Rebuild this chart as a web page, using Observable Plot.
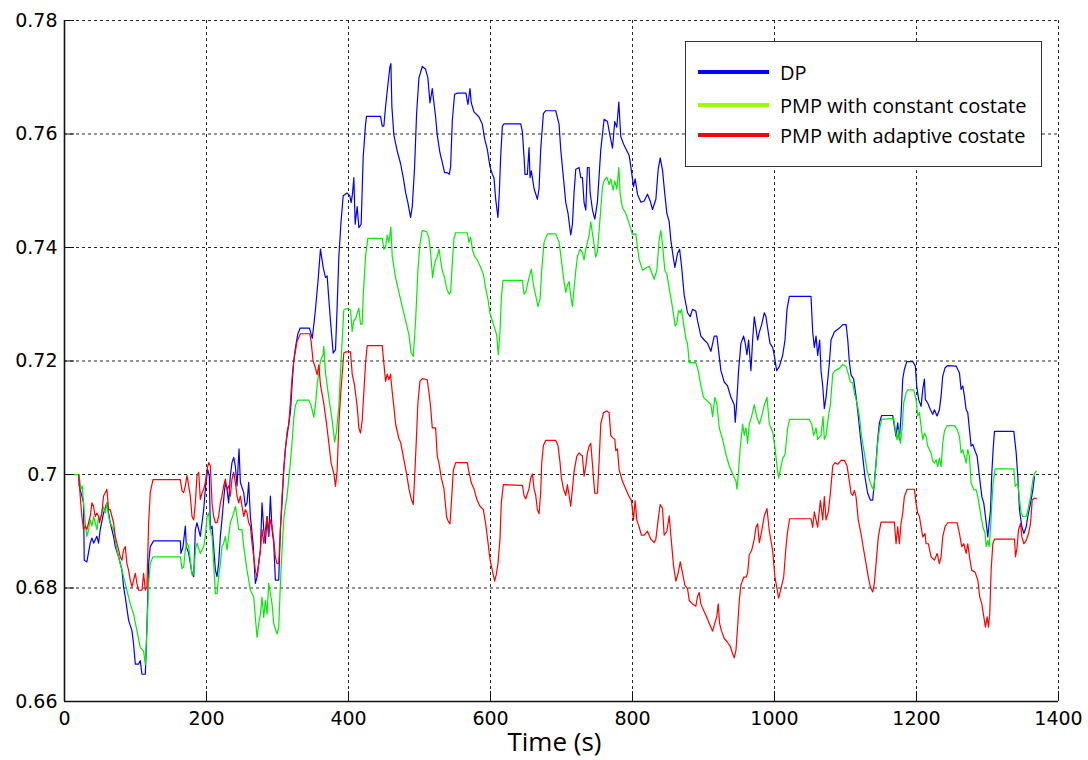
<!DOCTYPE html>
<html>
<head>
<meta charset="utf-8">
<script src="https://cdn.jsdelivr.net/npm/d3@7"></script>
<script src="https://cdn.jsdelivr.net/npm/@observablehq/plot@0.6"></script>
<style>
  html, body { margin: 0; padding: 0; background: #fff; }
  #wrap { position: relative; width: 1088px; height: 760px; }
  #legend {
    position: absolute; left: 685px; top: 41px; width: 355px; height: 124px;
    border: 1.5px solid #333; background: #fff; box-sizing: content-box;
    font-family: "Open Sans", "Noto Sans", sans-serif; font-size: 20px; color: #000;
  }
  .row { position: absolute; left: 0; height: 24px; display: flex; align-items: center; }
  .swatch { width: 71px; height: 3.5px; margin-left: 12px; margin-right: 11px; }
</style>
</head>
<body>
<div id="wrap"></div>
<script>
// ---------- data ----------
const seriesNames = ["DP", "PMP with constant costate", "PMP with adaptive costate"];
const seriesColors = ["#0000ff", "#00ee00", "#ff0000"];
const legendColors = ["#0000ff", "#99ff00", "#ff0000"];
const xTicks = [0, 200, 400, 600, 800, 1000, 1200, 1400];
const yTicks = [0.66, 0.68, 0.70, 0.72, 0.74, 0.76, 0.78];
const xLabel = "Time (s)";

const dpTime = [20,20.7,24.5,26.8,27.8,31.5,36.2,38.6,41,45.6,48,50.3,55,59.7,64.4,69.1,71.5,76.2,80.9,83.2,85.6,90.3,95,97.3,99.7,104.4,106.7,109.1,113.8,115.2,117,118.5,120.8,125.5,163.1,164,166.9,170.2,171.6,174.9,179.6,182,184.3,186.6,191.3,193.7,196,198.8,201.6,204,205.4,207.8,210.1,212.5,214.8,217.1,219.5,221.8,224.2,226.5,228.9,231.2,233.6,235.9,238.3,240.6,243,245.8,247.7,252.4,254.7,257.1,259.4,261.8,265.6,268.8,271.2,275.9,278.2,280.6,282.9,285.3,287.6,290,292.3,294.7,297,301.7,304.1,306.4,308.8,311.1,313.5,318.2,320.5,322.9,325.2,328.5,332,345,349,353,357,360.5,364.3,367.6,369.9,372.3,374.6,378.4,381.7,384,386.4,389.6,392.5,398.1,401.9,403.7,405.6,407.5,409.4,412.2,414.6,417.8,420.7,424,425.4,445.1,447.5,449.8,452.2,455.4,458.3,459.7,461.1,463.9,468.6,473.3,477.1,480.4,483.6,487.4,489.8,493.1,495.9,499.2,503.9,508.6,511.8,514.7,518,520.3,522.7,525,528.8,533.5,535.3,539.1,541.9,543.8,546.2,549.4,553.2,565.4,568.2,571.1,572.9,576.7,583.8,588.5,591.7,595.5,599.3,602.6,604.9,607.3,610.5,612.4,614.3,616.7,619,642.5,644.9,647.2,648.6,651.9,654.3,655.7,657.5,661.3,666,668.4,670.7,674.5,677.7,691.9,696.6,698.9,702.7,706,709.2,713,715.4,717.7,720.1,724.8,727.1,729.5,731.8,734.2,736.5,738.9,740.3,743.6,746.9,750.6,755.3,760,764.7,768.5,771.8,775,777.9,780.7,783.5,788.2,795.3,798.5,801.4,803.7,807,811.7,816.4,821.1,824.9,828.2,832.9,836.2,839,842.3,845.5,848.4,851.7,854,857.8,859.7,863.5,866.3,869.1,872.8,877.5,881.3,884.5,889.2,891.6,896.3,901,905.7,910.4,915.1,918.9,920.7,924.5,929.2,933.9,938.6,943.3,944.7,946.6,949.4,952.7,956.5,958.8,961.2,963.5,966.8,969.2,971.5,973.9,976.2,978.6,981.9,985.6,988,990.3,993.6,997.4,999.7,1003,1006.8,1011.5,1014.8,1017.6,1020.9,1051.4,1053.8,1056.1,1058.5,1060.8,1063.6,1065.5,1067.9,1070.2,1072.6,1077.3,1079.6,1084.3,1091.4,1096.1,1100.8,1103.2,1105.5,1107.9,1111.5,1114.8,1118,1120.9,1124.2,1127.4,1131.2,1135,1138.3,1140.6,1143,1145.3,1147.7,1151,1166.5,1168.8,1171.2,1173.5,1175.9,1178.2,1180.6,1182.9,1186.2,1194.7,1198.4,1200.3,1203.1,1206.4,1208.8,1211.1,1212.5,1215.8,1219.6,1222.9,1225.2,1229,1232.2,1234.6,1236.9,1240.2,1244,1255.8,1260.5,1262.8,1265.2,1267.5,1269.9,1272.2,1274.6,1276.9,1279.3,1282.6,1285.4,1288.7,1292,1294.8,1297.1,1300.4,1301.8,1304.2,1306.1,1307.9,1309.8,1337.1,1340.4,1342.7,1345.1,1348.4,1351.2,1354.5,1356.8,1360.6,1363.9,1366.2];
const dpValue = [0.700,0.698,0.6962,0.695,0.6849,0.6846,0.6879,0.6888,0.6879,0.6891,0.6879,0.6903,0.6932,0.695,0.6915,0.6891,0.6873,0.6855,0.6832,0.6802,0.6784,0.6743,0.6725,0.6701,0.6666,0.6666,0.6672,0.6648,0.6648,0.6695,0.6772,0.6843,0.6873,0.6883,0.6883,0.6861,0.6873,0.6909,0.6873,0.6861,0.6826,0.682,0.6903,0.6915,0.6891,0.6915,0.6938,0.698,0.7009,0.6998,0.6903,0.6909,0.6873,0.6832,0.682,0.6843,0.6891,0.6921,0.6956,0.6986,0.6974,0.695,0.6998,0.7021,0.703,0.7015,0.698,0.7045,0.6986,0.6968,0.6944,0.695,0.6986,0.6926,0.6879,0.6808,0.682,0.6867,0.695,0.6903,0.6879,0.6926,0.6891,0.6962,0.6903,0.6879,0.6814,0.6814,0.6903,0.695,0.7009,0.7045,0.7069,0.711,0.7158,0.72,0.7223,0.7247,0.7258,0.7258,0.724,0.7285,0.734,0.7397,0.7365,0.7347,0.735,0.7309,0.7271,0.7214,0.722,0.7296,0.7384,0.7447,0.7491,0.7496,0.7491,0.7479,0.7494,0.7523,0.7441,0.7472,0.7435,0.7441,0.756,0.7617,0.7631,0.7631,0.7614,0.7614,0.7648,0.7686,0.7718,0.7724,0.7648,0.7598,0.757,0.7548,0.7523,0.7497,0.7479,0.7453,0.7472,0.7542,0.7636,0.7699,0.7719,0.7714,0.7699,0.7655,0.768,0.7655,0.763,0.7598,0.7567,0.7542,0.7532,0.7532,0.7529,0.7542,0.7623,0.767,0.7672,0.7672,0.7652,0.768,0.7655,0.7639,0.763,0.7617,0.7592,0.7573,0.7542,0.7529,0.7523,0.7485,0.7453,0.7497,0.756,0.7614,0.7618,0.7618,0.7604,0.756,0.7529,0.7529,0.7576,0.7523,0.7535,0.7504,0.7485,0.7504,0.7573,0.7636,0.7641,0.7641,0.7617,0.7573,0.7523,0.7479,0.746,0.7422,0.7441,0.7497,0.7538,0.7541,0.7523,0.7523,0.7479,0.7466,0.7541,0.7541,0.7497,0.7466,0.745,0.748,0.7572,0.7626,0.7622,0.7596,0.7575,0.7622,0.7612,0.7656,0.7595,0.758,0.7562,0.7535,0.7507,0.7521,0.7494,0.748,0.7482,0.7494,0.7482,0.7467,0.7485,0.7538,0.7558,0.7536,0.7494,0.746,0.7445,0.7413,0.7379,0.7365,0.739,0.7397,0.7367,0.7316,0.7285,0.7278,0.7291,0.7288,0.7271,0.7244,0.7237,0.7231,0.7217,0.7244,0.7244,0.7224,0.7183,0.7163,0.7156,0.7136,0.7123,0.7092,0.7123,0.7183,0.7231,0.7244,0.7231,0.7211,0.7237,0.7183,0.7237,0.7278,0.7258,0.7237,0.7251,0.7264,0.7285,0.7278,0.7258,0.7231,0.7224,0.721,0.7183,0.719,0.721,0.7237,0.7291,0.7314,0.7314,0.7251,0.7224,0.7244,0.721,0.7237,0.7183,0.7156,0.7116,0.7136,0.7197,0.7237,0.7251,0.7258,0.7264,0.7264,0.7237,0.7197,0.7175,0.7168,0.7138,0.7103,0.7067,0.7032,0.6996,0.6967,0.6955,0.6955,0.6985,0.702,0.7061,0.7091,0.7104,0.7104,0.7085,0.7067,0.7091,0.7061,0.7103,0.7168,0.7185,0.7199,0.7199,0.7191,0.7156,0.7132,0.712,0.715,0.7168,0.7132,0.7126,0.7114,0.7106,0.7114,0.7103,0.7114,0.7138,0.7173,0.7188,0.7192,0.7191,0.7179,0.715,0.7156,0.7138,0.7114,0.7109,0.7079,0.705,0.7053,0.7041,0.7032,0.6996,0.6961,0.6949,0.6926,0.689,0.6908,0.6937,0.7003,0.7044,0.7076,0.7076,0.7038,0.6996,0.6937,0.6908,0.6896,0.6908,0.6926,0.6949,0.6973,0.6996];

const constTime = [0,19.8,20.7,23.1,25,26.8,29.2,31.5,33.9,36.2,38.6,40.9,43.3,45.6,48,50.3,54.1,57.4,59.7,62.1,64.4,69.1,73.8,78.5,83.2,87.9,92.6,97.3,102,106.7,111.4,113.8,116.1,118.5,120.8,124.6,163.1,165.5,167.8,170.2,172.5,174.9,177.2,179.6,182,184.3,186.6,191.3,196,198.4,200.7,203.1,205.4,207.8,210.1,212.5,214.8,217.1,219.5,221.8,224.2,226.5,228.9,231.2,233.6,238.3,240.6,243,245.3,250,252.4,257.1,261.8,266.5,268.8,271.2,273.5,275.9,278.2,280.6,282.9,285.3,287.6,290,292.3,294.7,299.4,301.7,304.1,306.4,308.8,311.1,313.5,315.8,318.2,320.5,322.9,325.2,328.5,344,347.3,351.1,353.4,355.8,360.5,364.2,365.2,367.5,372.3,377,380.5,383.1,386.4,389.6,393.4,398.1,402.8,405.2,407.5,409.9,412.2,414.6,416.9,419.3,420.7,424,427.2,447.5,449.8,452.2,454.5,456.9,459.7,461.6,466.3,471,475.7,480.4,485.1,488.3,491.2,494.5,497.7,500.6,503.9,510,513.3,515.6,518.4,520.3,522.7,525,527.4,529.7,532.1,535.3,538.2,541.5,543.8,546.2,548.5,550.9,567.3,569.7,572,574.4,577.6,581.4,586.1,589.9,593.2,596.4,599.3,602.6,605.8,608.7,611,613.4,615.2,617.6,644.9,647.2,649.6,651.9,654.3,657.5,660.4,663.7,666.9,669.8,672.1,675.4,680.1,691.9,696.6,699.8,702.7,706,708.3,710.7,713,715.4,717.7,720.1,722.4,726.2,729.5,731.8,734.2,736.5,738.9,741.2,745.9,748.3,750.6,754.4,757.7,760,763.8,767.1,769.4,772.7,775,777.9,780.7,782.6,785.9,790.6,795.3,800,804.7,807,809.4,814.1,818.8,823.5,825.8,830.5,834.3,837.6,839.9,842.3,845.5,848.4,851.7,854.9,857.8,860.1,862.5,864.8,867.2,869,871.9,875.1,877.5,879.9,889.2,892.5,896.3,900,905.7,910.4,912.8,916,918.9,922.2,926.9,931.6,936.3,941,945.7,947.1,949,951.8,955.1,957.4,959.8,962.1,964.5,967.7,971.5,974.8,978.6,981.9,985.6,989.4,992.7,997.4,1000.6,1003.5,1005.8,1008.2,1011.5,1014.8,1018.5,1021.3,1049,1052.3,1055.2,1058.5,1060.8,1065.5,1068.3,1070.2,1072.6,1075.9,1078.7,1082,1085.2,1091.4,1096.1,1100.8,1104,1106.9,1110.2,1112.4,1116.2,1119.5,1122.7,1126.5,1130.3,1133.6,1136.8,1139.7,1141.5,1143.4,1145.3,1147.7,1151,1167.9,1170.2,1172.6,1174.9,1177.3,1179.6,1182,1185.3,1187.6,1196.1,1199.4,1201.7,1204.1,1206.4,1208.8,1211.1,1213.5,1215.8,1218.2,1220.5,1222.9,1225.2,1227.6,1229.9,1232.2,1234.6,1236.9,1239.3,1243,1253.4,1257.2,1260.5,1262.8,1265.2,1267.5,1269.9,1272.2,1274.6,1276.9,1280.7,1284,1286.3,1290.1,1293.4,1296.6,1298.1,1300.4,1302.3,1304.2,1306.1,1307.9,1310.7,1337.1,1339,1342.7,1345.1,1347.4,1349.8,1354.5,1356.8,1360.6,1363.9,1366.2,1368.6];
const constValue = [0.700,0.700,0.6998,0.6974,0.698,0.695,0.6915,0.6891,0.6903,0.692,0.6909,0.6926,0.6915,0.6903,0.6926,0.692,0.6944,0.6932,0.695,0.6926,0.6915,0.6903,0.6867,0.6843,0.682,0.6796,0.6772,0.6754,0.6725,0.6695,0.6689,0.6665,0.6725,0.6808,0.6843,0.6855,0.6855,0.6834,0.6837,0.6867,0.6879,0.6873,0.6849,0.6823,0.6823,0.6867,0.6879,0.6861,0.6873,0.6891,0.6926,0.6932,0.6903,0.6891,0.6843,0.679,0.679,0.682,0.6843,0.6873,0.6879,0.6891,0.6867,0.6891,0.6915,0.6932,0.6944,0.6926,0.6903,0.6903,0.6873,0.6831,0.6796,0.6784,0.6748,0.6713,0.6737,0.6754,0.6784,0.6748,0.6778,0.6754,0.6808,0.679,0.6772,0.6737,0.6719,0.6731,0.6808,0.6867,0.692,0.6944,0.6962,0.6992,0.7021,0.7057,0.7099,0.7122,0.7131,0.7131,0.7122,0.7101,0.7122,0.7158,0.72,0.7211,0.7226,0.718,0.7135,0.7095,0.7057,0.7076,0.712,0.7202,0.729,0.7293,0.729,0.7252,0.7271,0.7274,0.7284,0.7293,0.7265,0.7265,0.7315,0.7384,0.7416,0.7416,0.7397,0.74,0.7422,0.7409,0.7436,0.7384,0.7347,0.7321,0.7296,0.7271,0.7246,0.7214,0.7208,0.7271,0.7359,0.7406,0.743,0.7428,0.7416,0.7391,0.7347,0.7365,0.7378,0.7384,0.7397,0.7378,0.7359,0.7347,0.7328,0.7318,0.7321,0.7372,0.7416,0.7426,0.7426,0.7409,0.7418,0.7397,0.7384,0.7378,0.7365,0.7353,0.7328,0.7309,0.7284,0.7271,0.7258,0.7246,0.7211,0.7252,0.7309,0.7342,0.7342,0.7318,0.7321,0.7334,0.7347,0.7362,0.7334,0.7315,0.7296,0.7309,0.7359,0.7409,0.7424,0.7424,0.7409,0.7378,0.7347,0.7321,0.7334,0.734,0.7315,0.7296,0.7328,0.7359,0.7384,0.7397,0.7391,0.7378,0.7397,0.7409,0.7422,0.7445,0.7405,0.7383,0.7393,0.7453,0.7507,0.7518,0.7524,0.7511,0.7521,0.7501,0.7517,0.7503,0.7541,0.7494,0.747,0.746,0.7442,0.7423,0.7424,0.74,0.7379,0.736,0.7364,0.7367,0.736,0.7344,0.736,0.7414,0.743,0.7405,0.736,0.7353,0.7328,0.7305,0.7282,0.7262,0.7266,0.7289,0.7285,0.7291,0.7266,0.724,0.723,0.7197,0.7197,0.7183,0.7156,0.7136,0.7129,0.7123,0.7102,0.7136,0.7123,0.7082,0.7062,0.7035,0.7015,0.7001,0.6988,0.6974,0.7001,0.7048,0.7089,0.7069,0.7082,0.7055,0.7089,0.7102,0.7123,0.7102,0.7089,0.7102,0.7123,0.7136,0.7089,0.7075,0.7048,0.7015,0.6994,0.7008,0.7028,0.7035,0.7082,0.7097,0.7097,0.7089,0.7069,0.7082,0.7062,0.7069,0.7102,0.7062,0.7069,0.7102,0.7123,0.7177,0.7183,0.7187,0.7194,0.719,0.7177,0.7163,0.7162,0.7144,0.7126,0.7103,0.7067,0.7038,0.7008,0.6991,0.6979,0.6973,0.6996,0.7026,0.7055,0.7079,0.7097,0.7099,0.7079,0.7061,0.7079,0.7055,0.7079,0.7126,0.7144,0.7149,0.7149,0.7132,0.7103,0.7109,0.7085,0.7061,0.7073,0.7067,0.705,0.7044,0.7038,0.7023,0.702,0.7026,0.7014,0.7029,0.7014,0.7055,0.7076,0.7086,0.7086,0.7079,0.7067,0.7038,0.7044,0.7032,0.702,0.7044,0.7032,0.6985,0.6973,0.6973,0.6961,0.6932,0.6908,0.6896,0.6873,0.6884,0.6873,0.6902,0.6949,0.6985,0.701,0.701,0.6979,0.6985,0.6955,0.6932,0.6926,0.6926,0.6937,0.6961,0.6991,0.7002,0.7006];

const adaptTime = [20,22.1,24.5,26.8,29.2,31.5,33.9,36.2,38.6,40.9,43.3,45.6,48,49.4,52.6,55,57.4,59.7,62.1,64.4,66.8,69.1,71.5,73.8,76.2,78.5,80.9,83.2,85.6,87.9,90.3,92.6,95,97.3,99.7,102,104.4,109.1,111.4,113.8,116.1,118.5,120.8,124.6,163.1,165.5,167.8,170.2,172.5,174.9,177.2,179.6,182,184.3,186.6,189,191.3,193.7,196,198.4,200.7,203.1,205.4,207.8,210.1,212.5,214.8,217.1,219.5,221.8,224.2,226.5,228.9,231.2,233.6,235.9,238.3,240.6,243,245.3,247.7,250,252.4,254.7,257.1,259.4,261.8,264.1,266.5,268.8,271.2,273.5,275.9,278.2,280.6,282.9,285.3,287.6,290,292.3,294.7,297,299.4,301.7,304.1,306.4,308.8,311.1,313.5,315.8,318.2,320.5,322.9,327.6,332.3,345.5,347.3,350.1,353.4,355.8,358.2,360.5,365.2,369,372.3,375.5,379.3,381.7,384,386.4,389.6,393.4,395.8,402.8,405.2,408.4,412.2,414.6,416.9,419.3,421.6,424,426.3,447.5,449.8,452.2,454.5,456.9,459.2,461.6,463.9,466.3,471,473.3,477.1,481.8,485.1,488.3,491.2,493.1,495.4,497.7,500.6,503.9,510.9,513.3,515.6,518,522.7,525,527.4,530.7,534.4,538.2,540,542.9,545.2,547.6,550.9,567.3,569.7,573,576.7,580.5,585.2,589.9,593.2,596.4,599.3,602.6,605.8,608.2,610.5,613.4,615.2,618.1,644.9,647.2,649.6,651.9,654.3,656.6,659,661.3,663.7,666,668.4,670.7,672.1,674.5,677.7,691.9,695.1,698,699.8,702.7,706,708.3,710.7,713,715.4,717.7,721.5,724.8,727.1,729.4,731.8,734.2,736.5,738.9,741.2,743.6,746.8,750.6,752.9,755.3,759.1,763.8,767.1,769.4,771.8,775,776.5,778.8,781.2,785.9,790.6,795.3,798.5,801.4,803.7,806.1,809.4,812.6,816.4,821.1,825.8,830.5,832.9,836.1,839,842.3,844.6,848.4,851.7,854,857.8,861.1,864.3,867.2,870.5,873.7,877.5,879.9,884.5,889.2,891.6,893.9,896.3,901,905.7,910.4,912.8,916,918.9,920.7,922.6,925.4,929.2,933.9,937.7,941,943.3,945.7,948,950.4,952.7,956.5,959.8,962.1,964.5,967.7,971.5,973.9,976.2,978.6,981.9,985.6,989.4,992.7,997.4,1000.6,1003.5,1005.8,1009.1,1012.9,1016.2,1018.5,1021.3,1051.4,1053.8,1056.1,1058.5,1060.8,1064.6,1067.9,1070.2,1072.6,1075.9,1078.7,1082,1085.2,1089,1093.7,1098.4,1102.2,1105.5,1107.8,1110.1,1112.5,1114.8,1118,1121.8,1125.6,1128.9,1132.1,1135,1138.3,1140.6,1143,1146.2,1150,1168.8,1171.2,1173.5,1175.9,1178.2,1180.6,1182.9,1186.7,1197,1199.4,1201.7,1204.1,1206.4,1208.8,1212,1213.5,1216.7,1220.5,1225.2,1229,1232.2,1234.6,1236.9,1240.2,1244,1257.2,1260.5,1263.7,1266.6,1269.9,1272.2,1274.6,1277.8,1282.5,1286.3,1289.1,1292,1294.8,1297.1,1299.5,1301.3,1303.2,1305.1,1307.5,1309.8,1338,1339.4,1341.8,1343.6,1346.5,1348.4,1351.2,1354.5,1357.8,1360.6,1363,1365.3,1368.6];
const adaptValue = [0.700,0.6962,0.6926,0.6903,0.6909,0.6903,0.6915,0.6926,0.695,0.6944,0.6926,0.6932,0.6926,0.6915,0.6932,0.6962,0.6968,0.6974,0.6938,0.6938,0.6926,0.6915,0.6891,0.6879,0.6867,0.6855,0.6849,0.6867,0.6873,0.6843,0.6831,0.6814,0.6802,0.6814,0.6826,0.6808,0.6796,0.6796,0.6826,0.6796,0.6802,0.6915,0.6968,0.6991,0.6991,0.6971,0.6968,0.698,0.6998,0.698,0.6962,0.6926,0.692,0.695,0.6998,0.7004,0.6956,0.6968,0.6974,0.6986,0.7009,0.7021,0.7015,0.695,0.6926,0.6915,0.6915,0.6926,0.695,0.6962,0.698,0.6992,0.6974,0.698,0.6962,0.6992,0.7004,0.6986,0.6962,0.695,0.6962,0.6944,0.6926,0.6938,0.6932,0.6915,0.6909,0.6879,0.6855,0.6831,0.682,0.6843,0.6867,0.6903,0.6879,0.6903,0.6926,0.6891,0.692,0.6909,0.6885,0.6855,0.6843,0.6843,0.6903,0.6962,0.7009,0.7045,0.7075,0.7087,0.7128,0.717,0.72,0.7235,0.7248,0.7248,0.7235,0.72,0.7188,0.7176,0.7193,0.7158,0.7125,0.709,0.7055,0.702,0.7002,0.6979,0.7007,0.7089,0.7152,0.7214,0.7216,0.7216,0.7177,0.7158,0.712,0.7082,0.7073,0.7095,0.7145,0.7196,0.7227,0.7227,0.7196,0.7164,0.7177,0.7167,0.7177,0.7145,0.712,0.7089,0.7063,0.7057,0.7032,0.7001,0.6975,0.6957,0.6947,0.6994,0.7057,0.7126,0.7164,0.7169,0.7167,0.7145,0.712,0.7082,0.7082,0.7032,0.702,0.6994,0.6975,0.6925,0.6919,0.6913,0.6957,0.7007,0.7021,0.7021,0.7004,0.6985,0.6975,0.6957,0.6944,0.6938,0.6913,0.6881,0.685,0.6831,0.6812,0.6824,0.6843,0.6887,0.695,0.6982,0.6981,0.6963,0.6957,0.6966,0.6975,0.6994,0.7001,0.6975,0.6963,0.6938,0.6931,0.6969,0.702,0.7051,0.706,0.706,0.7051,0.702,0.6994,0.6975,0.6963,0.6982,0.6963,0.6944,0.6975,0.7005,0.7032,0.7038,0.7035,0.7033,0.6997,0.7015,0.7038,0.705,0.7055,0.7018,0.6967,0.6967,0.7021,0.7089,0.7109,0.7112,0.7109,0.7069,0.7065,0.7062,0.7042,0.7045,0.7008,0.6988,0.6974,0.6961,0.6954,0.692,0.6954,0.692,0.6907,0.6893,0.6893,0.69,0.6886,0.688,0.6886,0.692,0.6947,0.694,0.6893,0.69,0.6927,0.6893,0.6839,0.6812,0.6826,0.6846,0.6826,0.6805,0.6799,0.6778,0.6772,0.6768,0.6785,0.6792,0.6772,0.6758,0.6745,0.6731,0.6724,0.6738,0.6751,0.6772,0.6738,0.6724,0.6711,0.6704,0.6697,0.6684,0.6677,0.669,0.6731,0.6778,0.6805,0.6819,0.6819,0.6826,0.6859,0.6866,0.6886,0.6907,0.6913,0.688,0.69,0.6927,0.694,0.69,0.6866,0.6819,0.6799,0.6782,0.6799,0.6819,0.6873,0.69,0.6922,0.6922,0.6907,0.6934,0.692,0.6907,0.6954,0.692,0.6961,0.692,0.6934,0.6967,0.7015,0.7021,0.7018,0.7025,0.7025,0.7015,0.6988,0.6967,0.6963,0.6972,0.6961,0.692,0.6896,0.6867,0.6843,0.6819,0.6802,0.6793,0.6808,0.6843,0.689,0.6916,0.6916,0.6878,0.6908,0.6878,0.6914,0.6932,0.6961,0.6974,0.6974,0.6949,0.6932,0.6926,0.6908,0.689,0.6896,0.6878,0.6878,0.6855,0.6849,0.6861,0.6843,0.6855,0.689,0.6908,0.6915,0.6915,0.6896,0.6873,0.6878,0.6861,0.6878,0.6855,0.6831,0.6828,0.6814,0.6784,0.6772,0.6749,0.6731,0.6749,0.6731,0.6755,0.6831,0.6878,0.6886,0.6886,0.6855,0.6873,0.6902,0.6914,0.689,0.6878,0.6884,0.6896,0.6914,0.6955,0.6958,0.6958];

// ---------- build ----------
const toRows = (t, v) => t.map((x, i) => ({t: x, v: v[i]}));
const series = [toRows(dpTime, dpValue), toRows(constTime, constValue), toRows(adaptTime, adaptValue)];
const fmtY = d => d3.format(".2~f")(d);

const chart = Plot.plot({
  width: 1088,
  height: 760,
  marginLeft: 64,
  marginRight: 30,
  marginTop: 20,
  marginBottom: 59,
  style: {fontFamily: "DejaVu Sans", fontSize: "19px", background: "#fff", color: "#000", overflow: "visible"},
  x: {domain: [0, 1400]},
  y: {domain: [0.66, 0.78]},
  marks: [
    Plot.gridX(xTicks.filter(d => d > 0), {stroke: "#000", strokeOpacity: 0.85, strokeWidth: 1, strokeDasharray: "3,3"}),
    Plot.gridY(yTicks.filter(d => d > 0.66), {stroke: "#000", strokeOpacity: 0.85, strokeWidth: 1, strokeDasharray: "3,3"}),
    ...series.map((rows, i) => Plot.line(rows, {x: "t", y: "v", stroke: seriesColors[i], strokeWidth: 1.2, curve: "linear"})),
    Plot.ruleX([0], {stroke: "#111", strokeWidth: 1.6}),
    Plot.ruleY([0.66], {stroke: "#111", strokeWidth: 1.6}),
    Plot.axisX(xTicks, {tickSize: -10, tickPadding: 20, tickFormat: d => String(d), label: null, stroke: "#111"}),
    Plot.axisY(yTicks, {tickSize: -10, tickPadding: 17, tickFormat: fmtY, label: null, stroke: "#111"}),
    Plot.text([xLabel], {text: d => d, frameAnchor: "bottom", dy: 49, dx: -7, fontSize: 26, fontFamily: "Open Sans"})
  ]
});

const wrap = document.getElementById("wrap");
wrap.appendChild(chart);

// legend (inside the axes, top-right, as in the original)
const legend = document.createElement("div");
legend.id = "legend";
const rowTops = [18, 51, 81];
seriesNames.forEach((name, i) => {
  const row = document.createElement("div");
  row.className = "row";
  row.style.top = rowTops[i] + "px";
  const sw = document.createElement("div");
  sw.className = "swatch";
  sw.style.background = legendColors[i];
  const tx = document.createElement("span");
  tx.textContent = name;
  row.appendChild(sw);
  row.appendChild(tx);
  legend.appendChild(row);
});
wrap.appendChild(legend);
</script>
</body>
</html>
